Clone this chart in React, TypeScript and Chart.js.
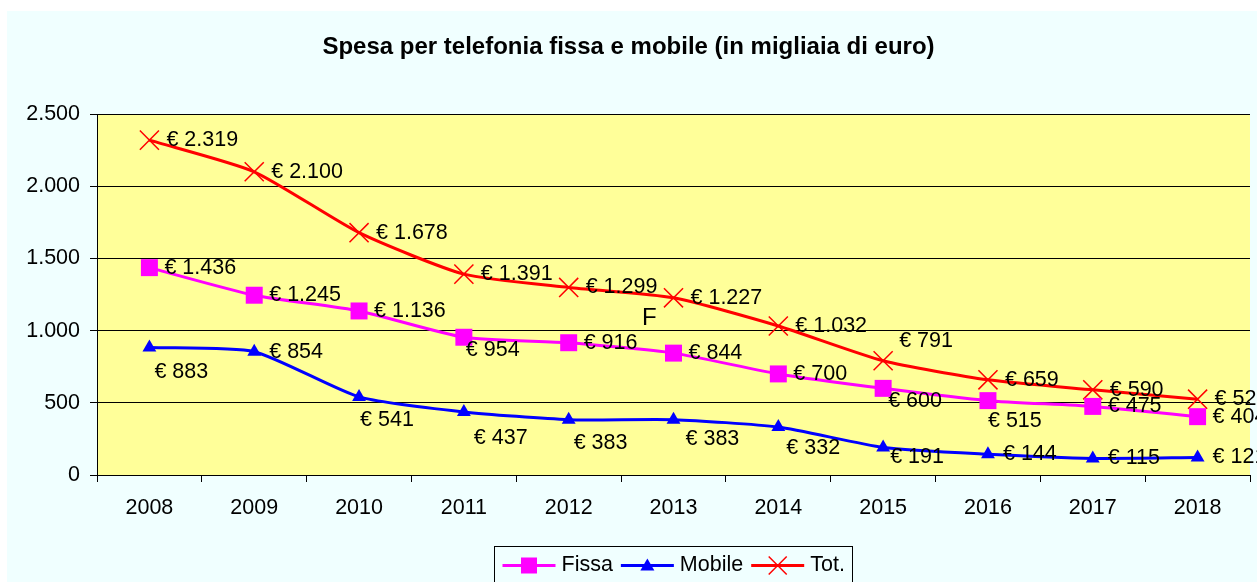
import React, { useEffect, useRef } from "react";
import { Chart, registerables } from "chart.js";

Chart.register(...registerables);

// ---- data ----
const years = ["2008", "2009", "2010", "2011", "2012", "2013", "2014", "2015", "2016", "2017", "2018"];
const fissa = [1436, 1245, 1136, 954, 916, 844, 700, 600, 515, 475, 404];
const mobile = [883, 854, 541, 437, 383, 383, 332, 191, 144, 115, 121];
const tot = [2319, 2100, 1678, 1391, 1299, 1227, 1032, 791, 659, 590, 525];
const yTicks = [0, 500, 1000, 1500, 2000, 2500];
const titleText = "Spesa per telefonia fissa e mobile (in migliaia di euro)";
const noteText = "F";

// ---- label placement (pixel offsets of each value label from its point) ----
const fissaLabelOffsets = [
  [15, 0], [15, 0], [15, 0], [2, 13], [15, 0], [15, 0], [15, 0], [5, 13], [0, 20], [15, 0], [15, 0],
];
const mobileLabelOffsets = [
  [5, 25], [15, 0], [1, 23], [10, 26], [5, 23], [12, 19], [8, 21], [7, 10], [15, 0], [15, 0], [15, 0],
];
const totLabelOffsets = [
  [17, 0], [17, 0], [17, 0], [17, 0], [17, 0], [17, 0], [17, 0], [16, -20], [17, 0], [17, 0], [17, 0],
];
const noteAt = { x: 4.77, y: 1087 };

const FONT = "'Liberation Sans', Arial, Helvetica, sans-serif";
const TEXT_SIZE = 21.5;
const PAGE_BG = "#f0ffff";
const PLOT_BG = "#ffff99";
const W = 1250;
const H = 571;

const fmt = (v: number) =>
  Math.round(v)
    .toString()
    .replace(/\B(?=(\d{3})+(?!\d))/g, ".");

const bgPlugin = {
  id: "bgPlugin",
  beforeDraw(chart: any) {
    const { ctx, chartArea, width, height } = chart;
    ctx.save();
    ctx.fillStyle = PAGE_BG;
    ctx.fillRect(0, 0, width, height);
    ctx.fillStyle = PLOT_BG;
    ctx.fillRect(chartArea.left, chartArea.top, chartArea.right - chartArea.left, chartArea.bottom - chartArea.top);
    ctx.restore();
  },
};

const labelPlugin = {
  id: "valueLabels",
  afterDatasetsDraw(chart: any) {
    const ctx = chart.ctx;
    const offsets = [fissaLabelOffsets, mobileLabelOffsets, totLabelOffsets];
    ctx.save();
    ctx.font = `${TEXT_SIZE}px ${FONT}`;
    ctx.fillStyle = "#000";
    ctx.textAlign = "left";
    ctx.textBaseline = "middle";
    chart.data.datasets.forEach((ds: any, i: number) => {
      const meta = chart.getDatasetMeta(i);
      meta.data.forEach((pt: any, j: number) => {
        const [dx, dy] = offsets[i][j];
        ctx.fillText("€ " + fmt(ds.data[j]), pt.x + dx, pt.y + dy);
      });
    });
    const xs = chart.scales.x;
    const ys = chart.scales.y;
    ctx.font = `24px ${FONT}`;
    ctx.textAlign = "center";
    ctx.fillText(noteText, xs.getPixelForValue(noteAt.x), ys.getPixelForValue(noteAt.y));
    ctx.restore();
  },
};

function drawMarker(ctx: CanvasRenderingContext2D, style: string, x: number, y: number, color: string) {
  ctx.save();
  ctx.fillStyle = color;
  ctx.strokeStyle = color;
  if (style === "rect") {
    ctx.fillRect(x - 8, y - 8, 16, 16);
  } else if (style === "triangle") {
    ctx.beginPath();
    ctx.moveTo(x, y - 7);
    ctx.lineTo(x + 7, y + 5);
    ctx.lineTo(x - 7, y + 5);
    ctx.closePath();
    ctx.fill();
  } else {
    ctx.lineWidth = 1.5;
    ctx.beginPath();
    ctx.moveTo(x - 9, y - 9);
    ctx.lineTo(x + 9, y + 9);
    ctx.moveTo(x + 9, y - 9);
    ctx.lineTo(x - 9, y + 9);
    ctx.stroke();
  }
  ctx.restore();
}

const legendPlugin = {
  id: "boxLegend",
  afterDraw(chart: any) {
    const { ctx, chartArea } = chart;
    ctx.save();
    ctx.font = `${TEXT_SIZE}px ${FONT}`;
    const items = chart.data.datasets.map((ds: any) => ({
      label: ds.label as string,
      color: ds.borderColor as string,
      style: ds.pointStyle as string,
    }));
    const lineLen = 53;
    const gapText = 6;
    const gapItem = 8;
    const padX = 8;
    const widths = items.map((it: any) => ctx.measureText(it.label).width);
    let total = padX * 2 + gapItem * (items.length - 1);
    items.forEach((_: any, i: number) => (total += lineLen + gapText + widths[i]));
    const cx = (chartArea.left + chartArea.right) / 2;
    const left = Math.round(cx - total / 2) + 0.5;
    const top = Math.round(chartArea.bottom + 71) + 0.5;
    ctx.strokeStyle = "#000";
    ctx.lineWidth = 1;
    ctx.strokeRect(left, top, Math.round(total), 45);
    const cy = top + 19;
    let x = left + padX;
    items.forEach((it: any, i: number) => {
      ctx.strokeStyle = it.color;
      ctx.lineWidth = 3;
      ctx.beginPath();
      ctx.moveTo(x, cy);
      ctx.lineTo(x + lineLen, cy);
      ctx.stroke();
      drawMarker(ctx, it.style, x + lineLen / 2, cy, it.color);
      x += lineLen + gapText;
      ctx.fillStyle = "#000";
      ctx.textAlign = "left";
      ctx.textBaseline = "middle";
      ctx.fillText(it.label, x, cy);
      x += widths[i] + gapItem;
    });
    ctx.restore();
  },
};

export default function App() {
  const ref = useRef<HTMLCanvasElement | null>(null);

  useEffect(() => {
    document.body.style.overflow = "hidden";
    document.documentElement.style.overflow = "hidden";
    if (!ref.current) return;
    const chart = new Chart(ref.current, {
      type: "line",
      data: {
        labels: years,
        datasets: [
          {
            label: "Fissa",
            data: fissa,
            borderColor: "#ff00ff",
            backgroundColor: "#ff00ff",
            borderWidth: 3,
            pointStyle: "rect",
            pointRadius: 12,
            pointBackgroundColor: "#ff00ff",
            pointBorderColor: "#ff00ff",
            pointBorderWidth: 0,
            tension: 0.2,
          },
          {
            label: "Mobile",
            data: mobile,
            borderColor: "#0000ff",
            backgroundColor: "#0000ff",
            borderWidth: 3,
            pointStyle: "triangle",
            pointRadius: 8,
            pointBackgroundColor: "#0000ff",
            pointBorderColor: "#0000ff",
            pointBorderWidth: 0,
            tension: 0.2,
          },
          {
            label: "Tot.",
            data: tot,
            borderColor: "#ff0000",
            backgroundColor: "#ff0000",
            borderWidth: 3,
            pointStyle: "crossRot",
            pointRadius: 13.5,
            pointBorderColor: "#ff0000",
            pointBorderWidth: 1.5,
            tension: 0.2,
          },
        ],
      },
      options: {
        responsive: false,
        animation: false,
        devicePixelRatio: 1,
        layout: { autoPadding: false, padding: { left: 0, right: 7, top: 0, bottom: 0 } },
        plugins: {
          legend: { display: false },
          tooltip: { enabled: false },
          title: {
            display: true,
            text: titleText,
            color: "#000",
            font: { family: FONT, size: 24, weight: "bold" },
            padding: { top: 21.6, bottom: 52.6 },
          },
        },
        scales: {
          x: {
            type: "category",
            offset: true,
            grid: { offset: true, drawOnChartArea: false, tickLength: 7, color: "#000" },
            border: { color: "#000", width: 1 },
            ticks: { color: "#000", font: { family: FONT, size: TEXT_SIZE }, padding: 13, maxRotation: 0 },
            afterFit: (s: any) => {
              s.height = H - 464;
            },
          },
          y: {
            min: 0,
            max: 2500,
            grid: { color: "#000", tickLength: 7, lineWidth: 1 },
            border: { color: "#000", width: 1 },
            ticks: {
              color: "#000",
              font: { family: FONT, size: TEXT_SIZE },
              padding: 10,
              callback: (v: any) => fmt(Number(v)),
            },
            afterBuildTicks: (s: any) => {
              s.ticks = yTicks.map((v) => ({ value: v }));
            },
            afterFit: (s: any) => {
              s.width = 90;
            },
          },
        },
      } as any,
      plugins: [bgPlugin, labelPlugin, legendPlugin],
    });
    return () => chart.destroy();
  }, []);

  return (
    <div style={{ position: "fixed", top: 11, left: 7, width: W, height: H, background: PAGE_BG }}>
      <canvas ref={ref} width={W} height={H} style={{ width: W, height: H, display: "block" }} />
    </div>
  );
}
